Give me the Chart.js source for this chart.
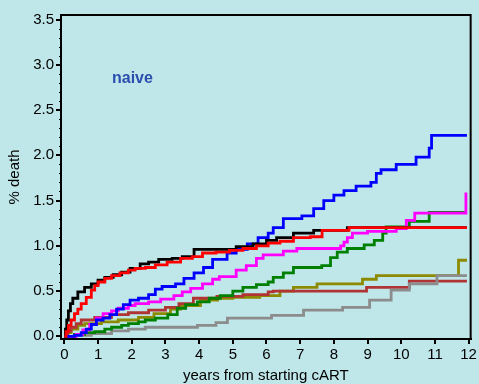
<!DOCTYPE html>
<html>
<head>
<meta charset="utf-8">
<script src="https://cdn.jsdelivr.net/npm/chart.js@4.4.1/dist/chart.umd.min.js"></script>
<style>
  html, body { margin: 0; padding: 0; background: #bfe6e8; }
  #wrap { width: 479px; height: 384px; position: relative; }
</style>
</head>
<body>
<div id="wrap"><canvas id="c" width="479" height="384"></canvas></div>
<script>
// cumulative % death by years from starting cART as [year, %]
const xTicks = [0, 1, 2, 3, 4, 5, 6, 7, 8, 9, 10, 11, 12];
const yTicks = [0, 0.5, 1, 1.5, 2, 2.5, 3, 3.5];

const redSeries = [[0,0],[0.05,0.05],[0.12,0.12],[0.2,0.18],[0.3,0.25],[0.4,0.3],[0.5,0.36],[0.65,0.43],[0.8,0.51],[0.9,0.56],[1.0,0.6],[1.2,0.64],[1.4,0.67],[1.65,0.7],[1.9,0.73],[2.1,0.75],[2.4,0.76],[2.7,0.79],[3.05,0.82],[3.45,0.86],[3.8,0.88],[4.1,0.92],[4.5,0.93],[4.9,0.95],[5.3,0.97],[5.7,1.0],[6.05,1.03],[6.4,1.05],[6.8,1.09],[7.3,1.1],[7.65,1.17],[8.45,1.2],[11.95,1.2]];
const blackSeries = [[0,0],[0.03,0.08],[0.07,0.18],[0.12,0.28],[0.18,0.36],[0.25,0.42],[0.4,0.49],[0.6,0.54],[0.8,0.58],[1.0,0.62],[1.2,0.65],[1.45,0.68],[1.7,0.71],[1.95,0.75],[2.25,0.8],[2.5,0.82],[2.8,0.85],[3.2,0.86],[3.5,0.88],[3.85,0.96],[5.1,0.99],[5.6,1.02],[6.0,1.06],[6.3,1.09],[6.8,1.14],[7.4,1.17],[8.4,1.2],[11.95,1.2]];
const blueSeries = [[0,0],[0.3,0.01],[0.5,0.04],[0.65,0.08],[0.8,0.13],[0.95,0.18],[1.15,0.2],[1.35,0.24],[1.55,0.3],[1.75,0.35],[1.95,0.4],[2.2,0.42],[2.5,0.46],[2.7,0.52],[2.9,0.55],[3.3,0.58],[3.55,0.64],[3.85,0.7],[4.13,0.76],[4.4,0.85],[4.83,0.92],[5.1,0.96],[5.43,1.02],[5.75,1.09],[6.05,1.14],[6.2,1.2],[6.5,1.3],[7.05,1.33],[7.4,1.41],[7.7,1.5],[8.0,1.56],[8.3,1.61],[8.66,1.66],[9.1,1.7],[9.26,1.8],[9.4,1.84],[9.85,1.9],[10.44,1.98],[10.83,2.08],[10.9,2.22],[11.95,2.22]];
const magentaSeries = [[0,0],[0.35,0.02],[0.55,0.07],[0.75,0.13],[0.95,0.2],[1.15,0.25],[1.4,0.28],[1.6,0.31],[1.9,0.34],[2.1,0.36],[2.5,0.38],[2.86,0.41],[3.25,0.45],[3.5,0.49],[3.75,0.53],[4.1,0.58],[4.4,0.63],[4.6,0.66],[5.1,0.73],[5.4,0.78],[5.7,0.86],[5.9,0.9],[6.5,0.94],[6.9,0.97],[8.2,1.0],[8.3,1.04],[8.4,1.09],[8.55,1.14],[9.0,1.16],[9.85,1.19],[10.15,1.28],[10.4,1.36],[11.9,1.36],[11.92,1.59]];
const greenSeries = [[0,0],[0.3,0.02],[0.6,0.04],[0.9,0.05],[1.2,0.08],[1.4,0.1],[1.7,0.12],[1.9,0.14],[2.2,0.16],[2.4,0.18],[2.7,0.2],[3.07,0.24],[3.35,0.31],[3.6,0.35],[3.95,0.38],[4.3,0.42],[4.63,0.45],[5.0,0.5],[5.3,0.54],[5.7,0.57],[6.05,0.6],[6.2,0.65],[6.5,0.7],[6.8,0.76],[7.64,0.78],[7.9,0.87],[8.1,0.93],[8.4,0.97],[8.9,1.01],[9.2,1.06],[9.45,1.14],[9.55,1.21],[10.24,1.27],[10.83,1.37],[11.95,1.37]];
const graySeries = [[0,0],[0.3,0.01],[0.8,0.03],[1.4,0.06],[1.9,0.08],[2.4,0.1],[3.95,0.12],[4.5,0.15],[4.84,0.2],[6.15,0.23],[7.1,0.29],[8.26,0.32],[9.06,0.4],[9.7,0.51],[10.24,0.58],[11.06,0.67],[11.95,0.67]];
const brownSeries = [[0,0],[0.1,0.06],[0.2,0.1],[0.35,0.14],[0.5,0.18],[0.9,0.21],[1.4,0.24],[1.9,0.26],[2.5,0.29],[3.0,0.32],[3.4,0.36],[3.83,0.42],[4.53,0.44],[5.3,0.46],[6.05,0.49],[6.2,0.5],[8.97,0.54],[10.24,0.61],[11.95,0.61]];
const oliveSeries = [[0,0],[0.1,0.04],[0.2,0.08],[0.4,0.12],[0.6,0.14],[1.1,0.16],[1.6,0.18],[2.2,0.21],[2.66,0.25],[3.15,0.3],[3.45,0.34],[4.04,0.4],[4.55,0.42],[5.0,0.43],[5.8,0.45],[6.4,0.5],[6.8,0.54],[7.5,0.58],[8.85,0.63],[9.26,0.67],[11.65,0.67],[11.7,0.84],[11.95,0.84]];

const bg = '#bfe6e8';
const font = "'Liberation Sans', Arial, sans-serif";

const toPts = arr => arr.map(([x, y]) => ({ x, y }));
const line = (data, color) => ({
  data: toPts(data), borderColor: color, borderWidth: 2.8,
  pointRadius: 0, stepped: true, fill: false, tension: 0
});

// dataset 0 is drawn on top
const datasets = [
  line(redSeries, '#ff0000'),
  line(blackSeries, '#000000'),
  line(blueSeries, '#0000ff'),
  line(magentaSeries, '#ff00ff'),
  line(greenSeries, '#008000'),
  line(graySeries, '#8c8c8c'),
  line(brownSeries, '#b03434'),
  line(oliveSeries, '#8c8a00'),
];

const frame = {
  id: 'frame',
  beforeDraw(chart) {
    const { ctx } = chart;
    ctx.save();
    ctx.fillStyle = bg;
    ctx.fillRect(0, 0, chart.width, chart.height);
    ctx.restore();
  },
  afterDraw(chart) {
    const { ctx, chartArea: a } = chart;
    const ys = chart.scales.y;
    ctx.save();
    ctx.strokeStyle = '#000';
    ctx.lineWidth = 2;
    ctx.strokeRect(a.left, a.top, a.right - a.left, a.bottom - a.top);
    // minor ticks on the y axis
    ctx.lineWidth = 1;
    for (let v = 0; v <= 3.5001; v += 0.1) {
      const p = Math.round(ys.getPixelForValue(v)) + 0.5;
      ctx.beginPath();
      ctx.moveTo(a.left - 2, p);
      ctx.lineTo(a.left, p);
      ctx.stroke();
    }
    ctx.fillStyle = '#2b4fae';
    ctx.font = "bold 16px " + font;
    ctx.textBaseline = 'middle';
    ctx.fillText('naive', a.left + 51, a.top + 64);
    ctx.restore();
  }
};

new Chart(document.getElementById('c'), {
  type: 'line',
  data: { datasets },
  options: {
    responsive: false, animation: false,
    layout: { padding: { top: 15, right: 7, left: 0, bottom: 0 } },
    plugins: { legend: { display: false }, tooltip: { enabled: false } },
    scales: {
      x: {
        type: 'linear', min: -0.1, max: 12.06,
        afterBuildTicks: s => { s.ticks = xTicks.map(v => ({ value: v })); },
        afterFit: s => { s.height = 45; },
        grid: { drawOnChartArea: false, drawTicks: true, tickLength: 5, tickColor: '#000', lineWidth: 2 },
        border: { display: true, color: '#000', width: 2 },
        ticks: { color: '#000', font: { family: font, size: 15 }, padding: 2, maxRotation: 0, autoSkip: false },
        title: { display: true, text: 'years from starting cART', color: '#000', font: { family: font, size: 15 }, padding: { top: 0, bottom: -1 } }
      },
      y: {
        type: 'linear', min: -0.03, max: 3.55,
        afterBuildTicks: s => { s.ticks = yTicks.map(v => ({ value: v })); },
        afterFit: s => { s.width = 61; },
        grid: { drawOnChartArea: false, drawTicks: true, tickLength: 5, tickColor: '#000', lineWidth: 2 },
        border: { display: true, color: '#000', width: 2 },
        ticks: { color: '#000', font: { family: font, size: 15 }, padding: 2, callback: v => v.toFixed(1) },
        title: { display: true, text: '% death', color: '#000', font: { family: font, size: 15 }, padding: { top: 6, bottom: 2 } }
      }
    }
  },
  plugins: [frame]
});
</script>
</body>
</html>
